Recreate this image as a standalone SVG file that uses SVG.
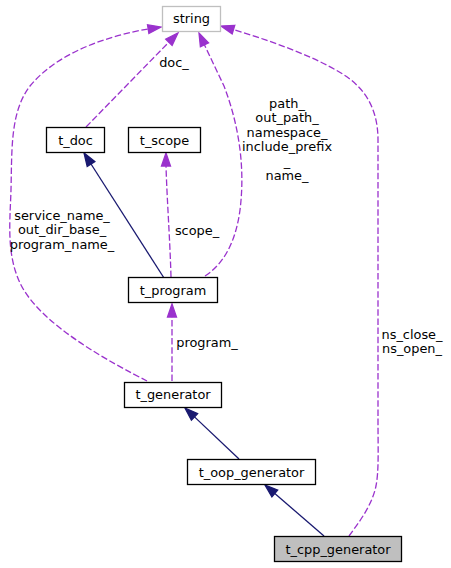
<svg xmlns="http://www.w3.org/2000/svg" width="451" height="568" viewBox="0 0 451 568">
<style>
text{font-family:"DejaVu Sans","Liberation Sans",sans-serif;font-size:12.9px;fill:#000;text-anchor:middle}
.node{fill:#fff;stroke:#000;stroke-width:1.3}
.ext{fill:#fff;stroke:#bfbfbf;stroke-width:1.3}
.cur{fill:#bfbfbf;stroke:#000;stroke-width:1.3}
.dash{fill:none;stroke:#9a32cd;stroke-width:1.3;stroke-dasharray:6.5,2.6}
.inh{fill:none;stroke:#191970;stroke-width:1.3}
.ah-d{fill:#9a32cd;stroke:#9a32cd;stroke-width:1.3}
.ah-i{fill:#191970;stroke:#191970;stroke-width:1.3}
</style>
<rect width="451" height="568" fill="#fff"/>
<g id="connectors">
  <path class="dash" d="M147,381 C112,363 42,326 21,285 C6,255 10,222 11,190 C12,150 10,112 30,86 C58,52 108,36 148,29"/>
  <polygon class="ah-d" points="148.9,33.5 161,27 147.5,24.7"/>
  <path class="dash" d="M86,127 L169,42"/>
  <polygon class="ah-d" points="172.1,45.5 178,33 165.7,39.2"/>
  <path class="dash" d="M205,276 C225,263 236,240 240,210 C245,170 240,128 224,86 L204.5,45"/>
  <polygon class="ah-d" points="208.6,42.9 199,33 200.4,46.7"/>
  <path class="dash" d="M349,536 C360,521 372,505 376,486 C379,470 378,450 378,420 L378,140 C378,110 366,88 341,73 C311,55 271,41 233.5,29.6"/>
  <polygon class="ah-d" points="234.8,25.3 221,26 232.2,33.9"/>
  <path class="dash" d="M171,277 C170,240 167,200 166,166"/>
  <polygon class="ah-d" points="161.5,166 166,153 170.5,166"/>
  <path class="dash" d="M172,381 L172,317"/>
  <polygon class="ah-d" points="167.5,317 172,304 176.5,317"/>
  <path class="inh" d="M164,278 L91,164"/>
  <polygon class="ah-i" points="94.8,161.6 84,153 87.2,166.4"/>
  <path class="inh" d="M239,459 L194.5,416.9"/>
  <polygon class="ah-i" points="197.6,413.6 185,408 191.4,420.2"/>
  <path class="inh" d="M324,536 L274.8,493.5"/>
  <polygon class="ah-i" points="277.7,490.1 265,485 271.9,496.9"/>
</g>
<g id="edge-labels">
  <text x="174" y="67">doc_</text>
  <text x="287" y="107.5">path_</text>
  <text x="287" y="122">out_path_</text>
  <text x="287" y="136.5">namespace_</text>
  <text x="287" y="151">include_prefix</text>
  <text x="287" y="165.5">_</text>
  <text x="287" y="180">name_</text>
  <text x="62" y="219.5">service_name_</text>
  <text x="62" y="234">out_dir_base_</text>
  <text x="62" y="248.5">program_name_</text>
  <text x="197" y="234.5">scope_</text>
  <text x="207" y="346.5">program_</text>
  <text x="412" y="338.5">ns_close_</text>
  <text x="412" y="353">ns_open_</text>
</g>
<g id="string"><rect class="ext" x="162.5" y="6.5" width="58" height="25"/><text x="191.5" y="23">string</text></g>
<g id="t_doc"><rect class="node" x="46.5" y="127.5" width="58" height="25"/><text x="75.5" y="144.5">t_doc</text></g>
<g id="t_scope"><rect class="node" x="128.5" y="127.5" width="72" height="25"/><text x="164.5" y="144.5">t_scope</text></g>
<g id="t_program"><rect class="node" x="128.5" y="277.5" width="89" height="25"/><text x="173" y="294.5">t_program</text></g>
<g id="t_generator"><rect class="node" x="124.5" y="382.5" width="97" height="25"/><text x="173" y="399">t_generator</text></g>
<g id="t_oop_generator"><rect class="node" x="187.5" y="459.5" width="128" height="25"/><text x="251.5" y="476.5">t_oop_generator</text></g>
<g id="t_cpp_generator"><rect class="cur" x="274.5" y="536.5" width="127" height="25"/><text x="338" y="553.5">t_cpp_generator</text></g>
</svg>
